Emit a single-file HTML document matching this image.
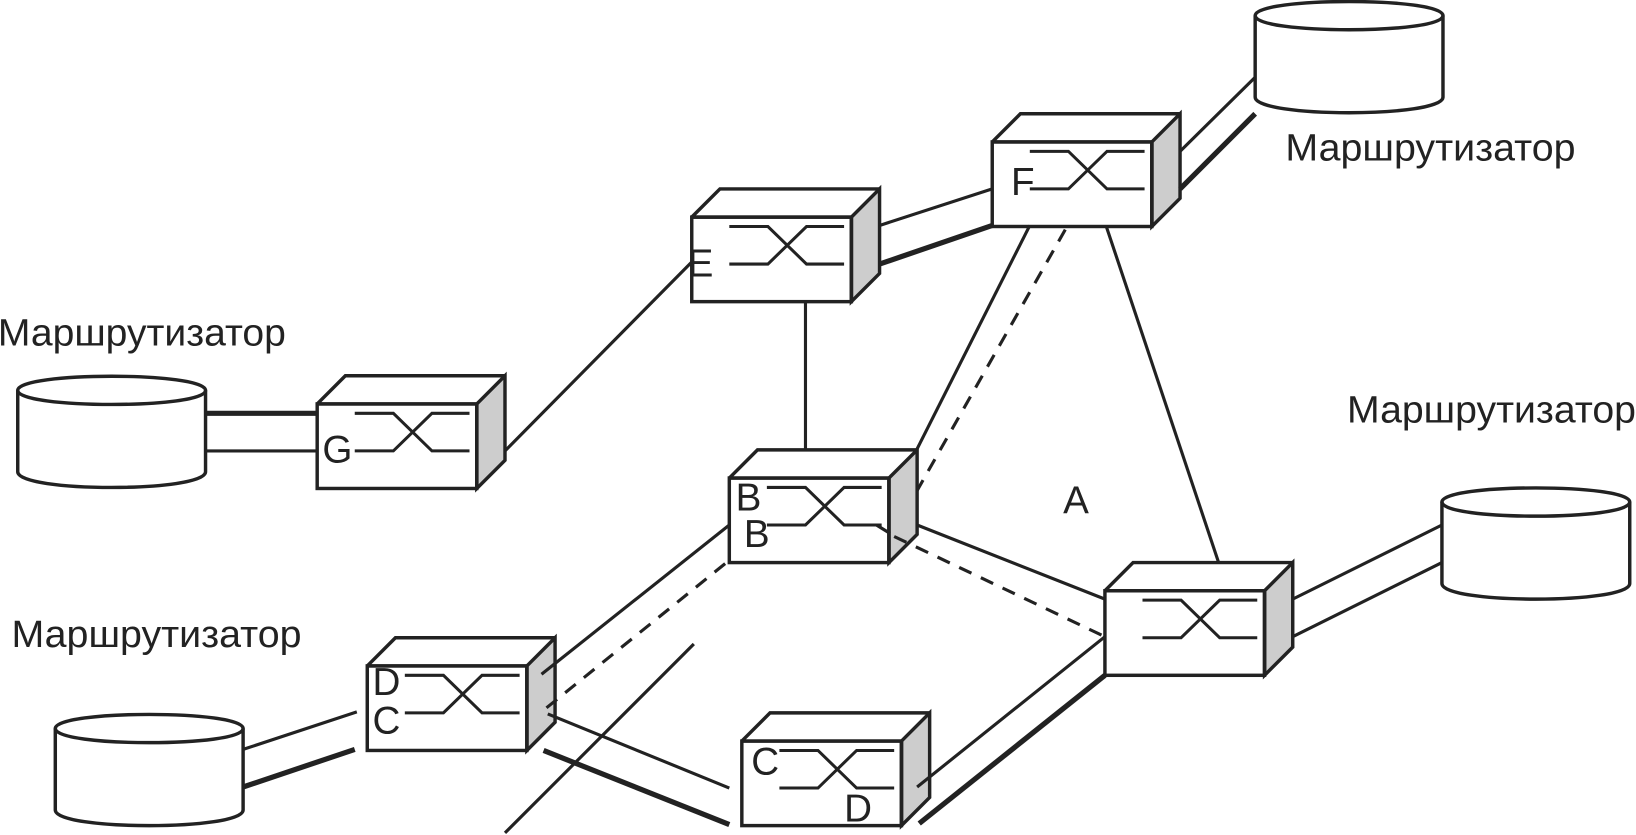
<!DOCTYPE html>
<html>
<head>
<meta charset="utf-8">
<style>
html,body{margin:0;padding:0;background:#fff;width:1636px;height:835px;overflow:hidden}
svg{display:block}
text{font-family:"Liberation Sans",sans-serif;fill:#222}
.l{font-size:36px}
.s{font-size:37px}
</style>
</head>
<body>
<svg width="1636" height="835" viewBox="0 0 1568 800" preserveAspectRatio="none" xmlns="http://www.w3.org/2000/svg">
<defs>
<g id="sw" fill="none" stroke="#222" stroke-width="3.3">
<path d="M0 0L27 -27H180V54L153 81V0Z" fill="#fff" stroke="none"/>
<path d="M153 0L180 -27V54L153 81Z" fill="#cdcdcd"/>
<path d="M0 0L27 -27H180M0 0H153M153 0V81" />
<rect x="0" y="0" width="153" height="81" fill="none"/>
<path d="M36 9H73L110 45H146M36 45H73L110 9H146" stroke-width="2.9"/>
</g>
<g id="cy" fill="#fff" stroke="#222" stroke-width="3.3">
<path d="M0 14C0 -4 180 -4 180 14V92C180 112 0 112 0 92Z"/>
<path d="M0 14C0 32 180 32 180 14" fill="none"/>
</g>
</defs>

<use href="#cy" x="17" y="360"/>
<use href="#cy" x="1203" y="1"/>
<use href="#cy" x="1382" y="467"/>
<use href="#cy" x="53" y="684"/>

<use href="#sw" x="304" y="387"/>
<use href="#sw" x="663" y="208"/>
<use href="#sw" x="951" y="136"/>
<use href="#sw" x="699" y="458"/>
<use href="#sw" x="1059" y="566"/>
<use href="#sw" x="352" y="638"/>
<use href="#sw" x="711" y="710"/>

<g fill="none" stroke="#222" stroke-width="3">
<path d="M197 432H304"/>
<path d="M484 432L663 251"/>
<path d="M843 216L951 181"/>
<path d="M1131 145L1203 74"/>
<path d="M772 289V431"/>
<path d="M987 216L878 432"/>
<path d="M1060 216L1168 539"/>
<path d="M879 503L1059 574"/>
<path d="M1239 574L1382 503"/>
<path d="M1239 610L1382 539"/>
<path d="M879 754L1059 610"/>
<path d="M519 646L699 503"/>
<path d="M233 718L342 682"/>
<path d="M525 684L699 755"/>
<path d="M665 617L484 798"/>
<path d="M840 503L853 511"/>
<path d="M1021 220L879 470" stroke-dasharray="13 10"/>
<path d="M857 514L1059 610" stroke-dasharray="13 10"/>
<path d="M695 540L519 682" stroke-dasharray="13 10"/>
</g>
<g fill="none" stroke="#222" stroke-width="5">
<path d="M197 396H304"/>
<path d="M843 253L951 216"/>
<path d="M1131 181L1203 109"/>
<path d="M1059 647L881 789"/>
<path d="M233 754L340 718"/>
<path d="M521 719L699 790"/>
</g>

<text class="l" x="-2" y="331" textLength="276" lengthAdjust="spacingAndGlyphs">Маршрутизатор</text>
<text class="l" x="1232" y="154" textLength="278" lengthAdjust="spacingAndGlyphs">Маршрутизатор</text>
<text class="l" x="1291" y="405" textLength="277" lengthAdjust="spacingAndGlyphs">Маршрутизатор</text>
<text class="l" x="11" y="620" textLength="278" lengthAdjust="spacingAndGlyphs">Маршрутизатор</text>

<text class="s" x="309" y="443">G</text>
<text class="s" x="659" y="265">E</text>
<text class="s" x="969" y="187">F</text>
<text class="s" x="705" y="489">B</text>
<text class="s" x="713" y="524">B</text>
<text class="s" x="1019" y="492">A</text>
<text class="s" x="357" y="666">D</text>
<text class="s" x="357" y="703">C</text>
<text class="s" x="720" y="742">C</text>
<text class="s" x="809" y="787">D</text>
</svg>
</body>
</html>
